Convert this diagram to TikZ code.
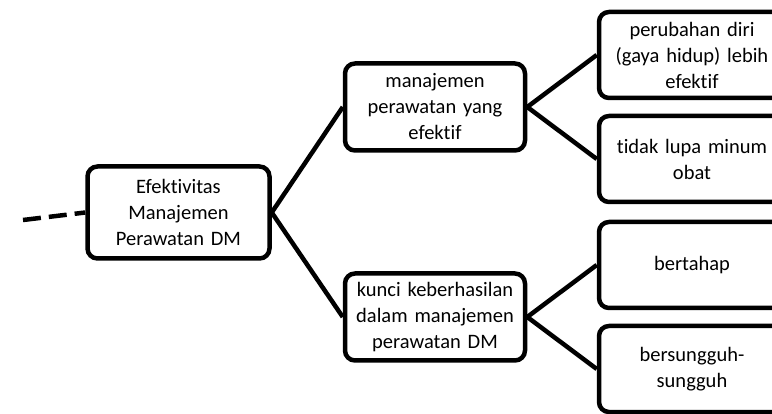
\documentclass[tikz,border=0pt]{standalone}
\usepackage{fontspec}
\setmainfont[Ligatures=NoCommon]{Carlito}
\begin{document}
\begin{tikzpicture}[x=1pt,y=-1pt,
  box/.style={draw=black,line width=4.5pt,rounded corners=10pt,fill=white,
    align=center,inner sep=2pt,font=\fontsize{20.5}{26}\selectfont},
  midbox/.style={box,minimum width=180pt,minimum height=87pt,text width=176pt},
  leafbox/.style={box,minimum width=186pt,minimum height=86pt,text width=180pt},
  link/.style={line width=4.5pt}]
\useasboundingbox (0,0) rectangle (772,414);
\node[box,minimum width=182pt,minimum height=92pt,text width=176pt] (root) at (178.5,212.5)
  {Efektivitas\\Manajemen\\Perawatan DM};
\node[midbox] (m1) at (435,107) {manajemen\\perawatan yang\\efektif};
\node[midbox] (m2) at (435,317) {kunci keberhasilan\\dalam manajemen\\perawatan DM};
\node[leafbox] (l1) at (692,55) {perubahan diri\\(gaya hidup) lebih\\efektif};
\node[leafbox] (l2) at (692,159) {tidak lupa minum\\obat};
\node[leafbox] (l3) at (692,265) {bertahap};
\node[leafbox] (l4) at (692,369) {bersungguh-\\sungguh};
\coordinate (tail) at (23,220);
\draw[link,dash pattern=on 18pt off 8pt] (tail) -- (root.west);
\draw[link] (root.east) -- (m1.west);
\draw[link] (root.east) -- (m2.west);
\draw[link] (m1.east) -- (l1.west);
\draw[link] (m1.east) -- (l2.west);
\draw[link] (m2.east) -- (l3.west);
\draw[link] (m2.east) -- (l4.west);
\end{tikzpicture}
\end{document}
